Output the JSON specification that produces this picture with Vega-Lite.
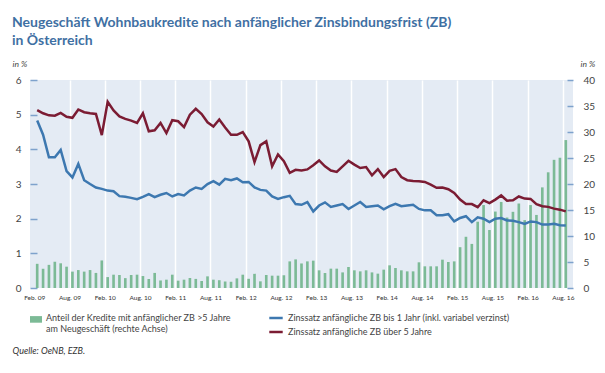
{
  "$schema": "https://vega.github.io/schema/vega-lite/v6.json",
  "width": 543,
  "height": 208,
  "autosize": {"type": "none"},
  "padding": {"left": 30, "top": 80, "right": 32, "bottom": 85},
  "background": "white",
  "title": {
    "text": ["Neugeschäft Wohnbaukredite nach anfänglicher Zinsbindungsfrist (ZB)", "in Österreich"],
    "anchor": "start",
    "frame": "group",
    "dx": -18,
    "offset": 11,
    "font": "Lato",
    "fontSize": 14,
    "fontWeight": "bold",
    "color": "#3f70a3",
    "lineHeight": 18
  },
  "config": {
    "view": {"fill": "#e4ebf4", "stroke": null},
    "font": "Lato"
  },
  "data": {
    "values": [
      {"m":"2009-02","b":4.83,"r":5.13,"s":4.65},
      {"m":"2009-03","b":4.42,"r":5.04,"s":3.7},
      {"m":"2009-04","b":3.77,"r":4.98,"s":4.45},
      {"m":"2009-05","b":3.77,"r":4.97,"s":5.05},
      {"m":"2009-06","b":3.98,"r":5.05,"s":4.75},
      {"m":"2009-07","b":3.37,"r":4.94,"s":4.1},
      {"m":"2009-08","b":3.19,"r":4.91,"s":3.15},
      {"m":"2009-09","b":3.58,"r":5.15,"s":3.45},
      {"m":"2009-10","b":3.11,"r":5.07,"s":3.15},
      {"m":"2009-11","b":3.0,"r":5.04,"s":3.45},
      {"m":"2009-12","b":2.9,"r":5.02,"s":2.9},
      {"m":"2010-01","b":2.86,"r":4.41,"s":5.3},
      {"m":"2010-02","b":2.81,"r":5.37,"s":2.1},
      {"m":"2010-03","b":2.79,"r":5.12,"s":2.56},
      {"m":"2010-04","b":2.65,"r":4.95,"s":2.5},
      {"m":"2010-05","b":2.63,"r":4.88,"s":1.9},
      {"m":"2010-06","b":2.6,"r":4.83,"s":2.5},
      {"m":"2010-07","b":2.56,"r":4.76,"s":2.56},
      {"m":"2010-08","b":2.63,"r":5.04,"s":2.3},
      {"m":"2010-09","b":2.71,"r":4.52,"s":1.73},
      {"m":"2010-10","b":2.62,"r":4.55,"s":2.9},
      {"m":"2010-11","b":2.69,"r":4.76,"s":1.45},
      {"m":"2010-12","b":2.74,"r":4.47,"s":1.6},
      {"m":"2011-01","b":2.64,"r":4.84,"s":2.56},
      {"m":"2011-02","b":2.71,"r":4.81,"s":1.41},
      {"m":"2011-03","b":2.67,"r":4.64,"s":1.6},
      {"m":"2011-04","b":2.81,"r":5.0,"s":1.92},
      {"m":"2011-05","b":2.9,"r":5.17,"s":1.75},
      {"m":"2011-06","b":2.86,"r":5.02,"s":1.35},
      {"m":"2011-07","b":3.0,"r":4.78,"s":2.24},
      {"m":"2011-08","b":3.08,"r":4.66,"s":1.6},
      {"m":"2011-09","b":2.98,"r":4.86,"s":1.5},
      {"m":"2011-10","b":3.15,"r":4.63,"s":1.25},
      {"m":"2011-11","b":3.11,"r":4.42,"s":1.2},
      {"m":"2011-12","b":3.16,"r":4.42,"s":1.85},
      {"m":"2012-01","b":3.05,"r":4.5,"s":2.56},
      {"m":"2012-02","b":3.06,"r":4.23,"s":1.77},
      {"m":"2012-03","b":2.9,"r":3.63,"s":2.72},
      {"m":"2012-04","b":2.83,"r":4.12,"s":1.28},
      {"m":"2012-05","b":2.81,"r":4.23,"s":2.5},
      {"m":"2012-06","b":2.64,"r":3.51,"s":2.37},
      {"m":"2012-07","b":2.57,"r":3.85,"s":2.37},
      {"m":"2012-08","b":2.62,"r":3.66,"s":2.45},
      {"m":"2012-09","b":2.66,"r":3.32,"s":5.12},
      {"m":"2012-10","b":2.42,"r":3.41,"s":5.5},
      {"m":"2012-11","b":2.4,"r":3.39,"s":4.72},
      {"m":"2012-12","b":2.48,"r":3.42,"s":5.12},
      {"m":"2013-01","b":2.21,"r":3.54,"s":5.26},
      {"m":"2013-02","b":2.38,"r":3.68,"s":3.4},
      {"m":"2013-03","b":2.47,"r":3.51,"s":2.88},
      {"m":"2013-04","b":2.34,"r":3.39,"s":3.72},
      {"m":"2013-05","b":2.38,"r":3.35,"s":3.72},
      {"m":"2013-06","b":2.42,"r":3.51,"s":3.0},
      {"m":"2013-07","b":2.28,"r":3.67,"s":4.04},
      {"m":"2013-08","b":2.38,"r":3.56,"s":3.4},
      {"m":"2013-09","b":2.48,"r":3.46,"s":3.2},
      {"m":"2013-10","b":2.34,"r":3.49,"s":3.4},
      {"m":"2013-11","b":2.36,"r":3.25,"s":3.0},
      {"m":"2013-12","b":2.38,"r":3.43,"s":2.76},
      {"m":"2014-01","b":2.27,"r":3.2,"s":3.53},
      {"m":"2014-02","b":2.36,"r":3.38,"s":4.36},
      {"m":"2014-03","b":2.43,"r":3.43,"s":3.85},
      {"m":"2014-04","b":2.36,"r":3.2,"s":3.4},
      {"m":"2014-05","b":2.38,"r":3.11,"s":3.2},
      {"m":"2014-06","b":2.4,"r":3.09,"s":3.2},
      {"m":"2014-07","b":2.28,"r":3.08,"s":4.94},
      {"m":"2014-08","b":2.24,"r":3.06,"s":4.17},
      {"m":"2014-09","b":2.24,"r":2.98,"s":4.17},
      {"m":"2014-10","b":2.1,"r":2.89,"s":4.17},
      {"m":"2014-11","b":2.1,"r":2.9,"s":5.45},
      {"m":"2014-12","b":2.13,"r":2.85,"s":5.0},
      {"m":"2015-01","b":1.92,"r":2.74,"s":5.12},
      {"m":"2015-02","b":2.02,"r":2.55,"s":7.85},
      {"m":"2015-03","b":2.07,"r":2.42,"s":9.85},
      {"m":"2015-04","b":1.9,"r":2.42,"s":8.48},
      {"m":"2015-05","b":2.04,"r":2.33,"s":12.75},
      {"m":"2015-06","b":2.0,"r":2.53,"s":15.95},
      {"m":"2015-07","b":1.9,"r":2.45,"s":11.15},
      {"m":"2015-08","b":2.0,"r":2.55,"s":14.7},
      {"m":"2015-09","b":2.02,"r":2.67,"s":16.55},
      {"m":"2015-10","b":1.95,"r":2.52,"s":13.55},
      {"m":"2015-11","b":1.94,"r":2.53,"s":14.65},
      {"m":"2015-12","b":1.9,"r":2.64,"s":16.25},
      {"m":"2016-01","b":1.85,"r":2.58,"s":13.05},
      {"m":"2016-02","b":1.92,"r":2.57,"s":15.95},
      {"m":"2016-03","b":1.9,"r":2.42,"s":14.05},
      {"m":"2016-04","b":1.83,"r":2.36,"s":19.35},
      {"m":"2016-05","b":1.83,"r":2.34,"s":22.25},
      {"m":"2016-06","b":1.85,"r":2.29,"s":24.65},
      {"m":"2016-07","b":1.81,"r":2.26,"s":25.05},
      {"m":"2016-08","b":1.8,"r":2.21,"s":28.45}
    ]
  },
  "layer": [
    {
      "mark": {"type": "bar"},
      "encoding": {
        "x": {
          "field": "m",
          "type": "ordinal",
          "scale": {"paddingInner": 0.55, "paddingOuter": 1.25},
          "axis": {
            "values": ["2009-02","2009-08","2010-02","2010-08","2011-02","2011-08","2012-02","2012-08","2013-02","2013-08","2014-02","2014-08","2015-02","2015-08","2016-02","2016-08"],
            "labelExpr": "(slice(datum.value,5)=='02' ? 'Feb. ' : 'Aug. ') + slice(datum.value,2,4)",
            "labelAngle": 0,
            "labelFontSize": 6.5,
            "labelColor": "#333333",
            "labelPadding": 6,
            "tickOffset": -2.92,
            "ticks": false,
            "domain": false,
            "grid": true,
            "gridColor": "#ffffff",
            "gridWidth": 1.5,
            "gridOpacity": {"condition": {"test": "datum.value == '2009-02'", "value": 0}, "value": 1},
            "title": "Quelle:  OeNB, EZB.",
            "titleFont": "Lato",
            "titleFontSize": 9,
            "titleFontWeight": "normal",
            "titleFontStyle": "italic",
            "titleColor": "#333333",
            "titleAnchor": "start",
            "titleAlign": "left",
            "titleBaseline": "middle",
            "titleX": -18,
            "titleY": 62
          }
        },
        "y": {
          "field": "s",
          "type": "quantitative",
          "scale": {"domain": [0, 40], "nice": false},
          "axis": {
            "orient": "right",
            "values": [0,5,10,15,20,25,30,35,40],
            "grid": false,
            "domain": false,
            "tickSize": -6,
            "tickColor": "#7ea2cc",
            "tickWidth": 1.5,
            "labelPadding": 16,
            "labelFontSize": 10,
            "labelColor": "#444444",
            "title": "in %",
            "titleAngle": 0,
            "titleFontStyle": "italic",
            "titleFontWeight": "normal",
            "titleFontSize": 8.5,
            "titleColor": "#444444",
            "titleAlign": "left",
            "titleBaseline": "middle",
            "titleX": 7,
            "titleY": -17
          }
        },
        "fill": {
          "datum": "Anteil",
          "scale": {"range": ["#7cba96"]},
          "legend": {
            "orient": "none",
            "legendX": 0,
            "legendY": 228,
            "title": null,
            "symbolType": "M-1,0.35H1V1.45H-1Z",
            "symbolSize": 144,
            "symbolStrokeWidth": 0,
            "labelBaseline": "top",
            "labelFontSize": 9,
            "labelColor": "#444444",
            "labelLimit": 400,
            "labelExpr": "['Anteil der Kredite mit anfänglicher ZB >5 Jahre', 'am Neugeschäft (rechte Achse)']"
          }
        }
      }
    },
    {
      "transform": [{"fold": ["b", "r"], "as": ["k", "v"]}],
      "mark": {"type": "line", "strokeWidth": 2.5},
      "encoding": {
        "x": {"field": "m", "type": "ordinal"},
        "y": {
          "field": "v",
          "type": "quantitative",
          "scale": {"domain": [0, 6], "nice": false},
          "axis": {
            "orient": "left",
            "values": [0,1,2,3,4,5,6],
            "grid": false,
            "domain": false,
            "tickSize": -7,
            "tickColor": "#7ea2cc",
            "tickWidth": 1.5,
            "labelPadding": 16,
            "labelFontSize": 10,
            "labelColor": "#444444",
            "title": "in %",
            "titleAngle": 0,
            "titleFontStyle": "italic",
            "titleFontWeight": "normal",
            "titleFontSize": 8.5,
            "titleColor": "#444444",
            "titleAlign": "left",
            "titleBaseline": "middle",
            "titleX": -18,
            "titleY": -17
          }
        },
        "stroke": {
          "field": "k",
          "type": "nominal",
          "scale": {"domain": ["b", "r"], "range": ["#3d78b0", "#7b1c33"]},
          "legend": {
            "orient": "none",
            "legendX": 238,
            "legendY": 230,
            "title": null,
            "symbolType": "stroke",
            "symbolSize": 180,
            "symbolStrokeWidth": 2.5,
            "labelFontSize": 9,
            "labelColor": "#444444",
            "labelLimit": 400,
            "rowPadding": 1,
            "labelExpr": "datum.value == 'b' ? 'Zinssatz anfängliche ZB bis 1 Jahr (inkl. variabel verzinst)' : 'Zinssatz anfängliche ZB über 5 Jahre'"
          }
        }
      }
    }
  ],
  "resolve": {"scale": {"y": "independent", "fill": "independent", "stroke": "independent"}}
}
